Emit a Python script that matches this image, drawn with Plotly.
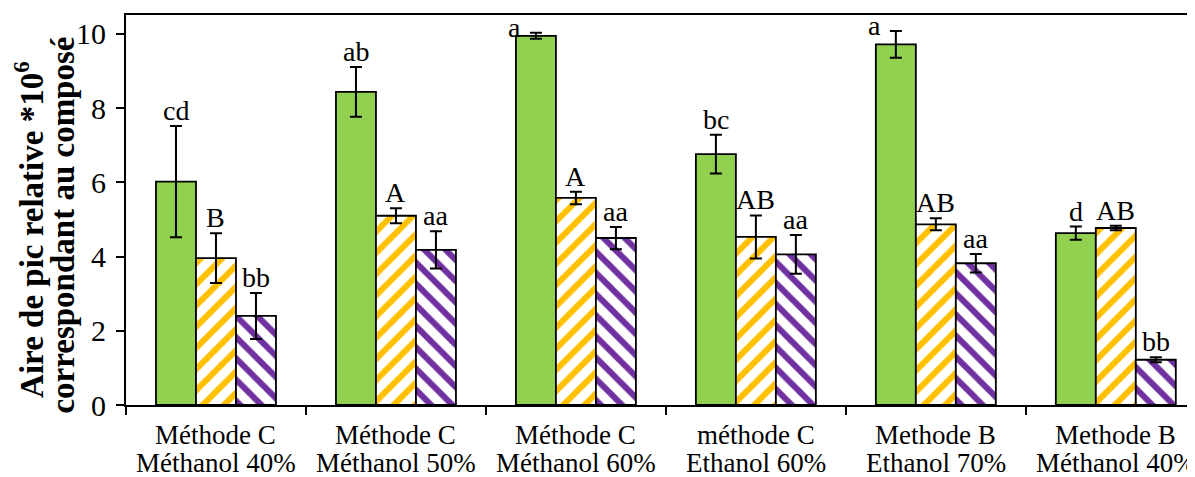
import plotly.graph_objects as go

cat_line1 = ["Méthode C", "Méthode C", "Méthode C", "méthode C", "Methode B", "Methode B"]
cat_line2 = ["Méthanol 40%", "Méthanol 50%", "Méthanol 60%", "Ethanol 60%", "Ethanol 70%", "Méthanol 40%"]
green_vals = [6.02, 8.44, 9.95, 6.76, 9.72, 4.63]
green_err = [1.50, 0.67, 0.08, 0.52, 0.36, 0.18]
green_lbl = ["cd", "ab", "a", "bc", "a", "d"]
yellow_vals = [3.96, 5.10, 5.58, 4.53, 4.87, 4.77]
yellow_err = [0.67, 0.20, 0.17, 0.58, 0.16, 0.06]
yellow_lbl = ["B", "A", "A", "AB", "AB", "AB"]
purple_vals = [2.40, 4.18, 4.50, 4.06, 3.82, 1.22]
purple_err = [0.62, 0.50, 0.30, 0.52, 0.25, 0.07]
purple_lbl = ["bb", "aa", "aa", "aa", "aa", "bb"]
y_ticks = [0, 2, 4, 6, 8, 10]

FONT = "Liberation Serif, Times New Roman, serif"
xpos = list(range(len(cat_line1)))
fig = go.Figure()

def err(arr):
    return dict(type="data", array=arr, visible=True, color="black", thickness=2, width=6)

fig.add_trace(go.Bar(x=xpos, y=green_vals, error_y=err(green_err), name="g",
                     marker=dict(color="#92D050", line=dict(color="black", width=1.8))))
fig.add_trace(go.Bar(x=xpos, y=yellow_vals, error_y=err(yellow_err), name="y",
                     marker=dict(color="white", line=dict(color="black", width=1.8),
                                 pattern=dict(shape="/", fgcolor="#FFC000", bgcolor="white",
                                              fgopacity=1, size=15, solidity=0.4))))
fig.add_trace(go.Bar(x=xpos, y=purple_vals, error_y=err(purple_err), name="p",
                     marker=dict(color="white", line=dict(color="black", width=1.8),
                                 pattern=dict(shape="\\", fgcolor="#7030A0", bgcolor="white",
                                              fgopacity=1, size=15, solidity=0.4))))

# letter labels above error bars
offsets = [-1, 0, 1]
bw = 1 / 1.5 / 3
for k, (vals, errs, lbls) in enumerate([(green_vals, green_err, green_lbl),
                                          (yellow_vals, yellow_err, yellow_lbl),
                                          (purple_vals, purple_err, purple_lbl)]):
    for i in range(len(xpos)):
        top = vals[i] + errs[i]
        xs, ys = 0, -2
        if top > 9.9:
            xs, ys = -21, -12
        fig.add_annotation(x=i + offsets[k] * bw, y=top, xref="x", yref="y", text=lbls[i],
                           showarrow=False, yanchor="bottom", xshift=xs, yshift=ys,
                           font=dict(family=FONT, size=28, color="black"))

# category labels (two lines, tight spacing)
for i in xpos:
    fig.add_annotation(x=i, y=0, xref="x", yref="paper", text=cat_line1[i], showarrow=False,
                       yanchor="middle", yshift=-30, font=dict(family=FONT, size=27, color="black"))
    fig.add_annotation(x=i, y=0, xref="x", yref="paper", text=cat_line2[i], showarrow=False,
                       yanchor="middle", yshift=-58, font=dict(family=FONT, size=27, color="black"))

# y-axis title (two lines)
fig.add_annotation(x=0, y=0.449, xref="paper", yref="paper", xanchor="center", yanchor="middle",
                   xshift=-97, text="<b>Aire de pic relative *10<sup>6</sup></b>", textangle=-90,
                   showarrow=False, font=dict(family=FONT, size=33, color="black"))
fig.add_annotation(x=0, y=0.46, xref="paper", yref="paper", xanchor="center", yanchor="middle",
                   xshift=-63, text="<b>correspondant au composé</b>", textangle=-90,
                   showarrow=False, font=dict(family=FONT, size=33, color="black"))

fig.update_layout(
    width=1195, height=477, barmode="group", bargap=1/3, bargroupgap=0,
    margin=dict(l=118, r=8, t=7, b=80, autoexpand=False),
    plot_bgcolor="white", paper_bgcolor="white", showlegend=False,
    font=dict(family=FONT, size=28, color="black"),
)
fig.update_xaxes(range=[-0.5, 5.44], showline=True, linecolor="black", linewidth=2,
                 mirror=True, ticks="outside", ticklen=8, tickcolor="black", tickwidth=1.5,
                 tickvals=[-0.5, 0.5, 1.5, 2.5, 3.5, 4.5], showticklabels=False, showgrid=False,
                 zeroline=False)
fig.update_yaxes(range=[0, 10.51], tickvals=y_ticks, showline=True, linecolor="black",
                 linewidth=2, ticks="outside", ticklen=8, tickcolor="black", tickwidth=1.5,
                 showgrid=False, zeroline=False, ticklabelstandoff=4,
                 tickfont=dict(family=FONT, size=30, color="black"))
fig.write_html("out.html")
